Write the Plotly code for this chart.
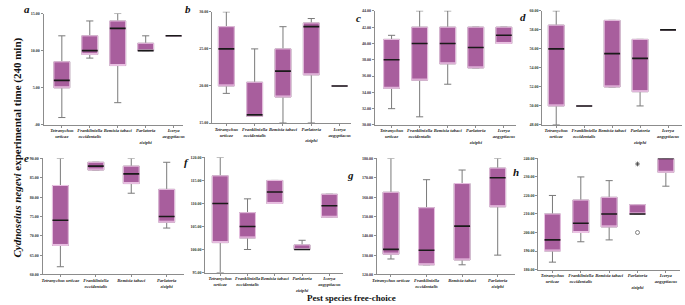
import plotly.graph_objects as go

W, H = 685, 305

# ---------------- data ----------------
cats5 = ["Tetranychus urticae", "Frankliniella occidentalis", "Bemisia tabaci",
         "Parlatoria ziziphi", "Icerya aegyptiacus"]
cats4 = cats5[:4]
labels5 = ["Tetranychus<br>urticae", "Frankliniella<br>occidentalis", "Bemisia tabaci",
           "Parlatoria<br><br>ziziphi", "Icerya<br>aegyptiacus"]
labels4 = ["Tetranychus urticae", "Frankliniella<br>occidentalis", "Bemisia tabaci",
           "Parlatoria<br>ziziphi"]

# panel a (0-15 min)
a_lo = [1, 9, 3, 10, 12]
a_q1 = [5, 9.5, 8, 10, 12]
a_med = [6, 10, 13, 10, 12]
a_q3 = [8.5, 12, 14, 11, 12]
a_hi = [12, 14, 15, 12, 12]
a_ticks = [0, 5, 10, 15]
a_ticktext = [".00", "5.00", "10.00", "15.00"]

# panel b
b_lo = [19, 15.9, 15, 15, 20]
b_q1 = [20, 15.9, 18.5, 21.5, 20]
b_med = [25, 16.1, 22, 28, 20]
b_q3 = [28, 20.5, 25, 28.5, 20]
b_hi = [30, 25, 28, 29.1, 20]
b_ticks = [15, 20, 25, 30]
b_ticktext = ["15.00", "20.00", "25.00", "30.00"]

# panel c
c_lo = [32, 31, 35, 37, 40]
c_q1 = [34.5, 35.5, 37.5, 37, 40]
c_med = [38, 40, 40, 39.5, 41]
c_q3 = [40.5, 42, 42, 42, 42]
c_hi = [41, 44, 44, 42, 42]
c_ticks = [30, 32, 34, 36, 38, 40, 42, 44]
c_ticktext = ["30.00", "32.00", "34.00", "36.00", "38.00", "40.00", "42.00", "44.00"]

# panel d
d_lo = [48, 50, 52, 50, 58]
d_q1 = [50, 50, 52, 51.5, 58]
d_med = [56, 50, 55.5, 55, 58]
d_q3 = [58.5, 50, 59, 57, 58]
d_hi = [60, 50, 59, 57, 58]
d_ticks = [48, 50, 52, 54, 56, 58, 60]
d_ticktext = ["48.00", "50.00", "52.00", "54.00", "56.00", "58.00", "60.00"]

# panel e
e_lo = [62, 87, 81, 72]
e_q1 = [67.5, 87, 83.5, 73.5]
e_med = [74, 88, 86, 75]
e_q3 = [83, 89, 88, 82]
e_hi = [90, 89, 90, 89]
e_ticks = [60, 65, 70, 75, 80, 85, 90]
e_ticktext = ["60.00", "65.00", "70.00", "75.00", "80.00", "85.00", "90.00"]

# panel f
f_lo = [95, 100, 110, 100, 107]
f_q1 = [101.5, 102.5, 110, 100, 107]
f_med = [110, 105, 112.5, 100, 109.5]
f_q3 = [116, 108, 115, 101, 112]
f_hi = [120, 111, 115, 102, 112]
f_ticks = [95, 100, 105, 110, 115, 120]
f_ticktext = ["95.00", "100.00", "105.00", "110.00", "115.00", "120.00"]

# panel g
g_lo = [128, 125, 125, 130]
g_q1 = [130.5, 125, 127.5, 155]
g_med = [133, 132.5, 145, 170]
g_q3 = [162.5, 154.5, 167, 175]
g_hi = [180, 169, 174, 180]
g_ticks = [120, 130, 140, 150, 160, 170, 180]
g_ticktext = ["120.00", "130.00", "140.00", "150.00", "160.00", "170.00", "180.00"]

# panel h
h_lo = [184, 195, 196, 210, 225]
h_q1 = [190, 200, 203, 210, 232.5]
h_med = [196, 205, 210, 210, 240]
h_q3 = [210, 217.5, 219, 215, 240]
h_hi = [220, 230, 228, 215, 240]
h_ticks = [180, 190, 200, 210, 220, 230, 240]
h_ticktext = ["180.00", "190.00", "200.00", "210.00", "220.00", "230.00", "240.00"]
h_out_star_cat = ["Parlatoria ziziphi"]
h_out_star_val = [237]
h_out_circ_cat = ["Parlatoria ziziphi"]
h_out_circ_val = [200]

panels = [
    # letter, cats, labels, lo, q1, med, q3, hi, ticks, ticktext, xl, xr, xrange, ytop, ybot, letter pos
    ("a", cats5, labels5, a_lo, a_q1, a_med, a_q3, a_hi, a_ticks, a_ticktext, 39, 180, [-0.65, 4.35], 10.7, 124, (22, 6)),
    ("b", cats5, labels5, b_lo, b_q1, b_med, b_q3, b_hi, b_ticks, b_ticktext, 209, 349, [-0.5, 4.4], 9, 122, (185, 6)),
    ("c", cats5, labels5, c_lo, c_q1, c_med, c_q3, c_hi, c_ticks, c_ticktext, 373, 516, [-0.6, 4.45], 8, 124, (357, 15)),
    ("d", cats5, labels5, d_lo, d_q1, d_med, d_q3, d_hi, d_ticks, d_ticktext, 542, 683, [-0.5, 4.5], 8, 124, (523, 14)),
    ("e", cats4, labels4, e_lo, e_q1, e_med, e_q3, e_hi, e_ticks, e_ticktext, 38, 181, [-0.5, 3.5], 158, 276, (22, 158)),
    ("f", cats5, labels5, f_lo, f_q1, f_med, f_q3, f_hi, f_ticks, f_ticktext, 202, 341, [-0.55, 4.5], 157, 274, (183, 162)),
    ("g", cats4, labels4, g_lo, g_q1, g_med, g_q3, g_hi, g_ticks, g_ticktext, 375, 515, [-0.4, 3.5], 158, 276, (349, 175)),
    ("h", cats5, labels5, h_lo, h_q1, h_med, h_q3, h_hi, h_ticks, h_ticktext, 538, 681, [-0.5, 4.5], 158, 271, (516, 172)),
]

FILL = "#A85E9D"
BORDER = "#EBC3E4"
WHISK = "#7a7a7a"
MED = "#1a1a1a"
AXC = "#8c8c8c"
SERIF = "Liberation Serif"

fig = go.Figure()
layout = dict(
    width=W, height=H, margin=dict(l=0, r=0, t=0, b=0),
    paper_bgcolor="white", plot_bgcolor="white",
    showlegend=False, boxmode="overlay",
    font=dict(family=SERIF, color="#222"),
)
annotations = []

for i, (letter, cats, labels, lo, q1, med, q3, hi, ticks, ticktext,
        xl, xr, xrng, ytop, ybot, lpos) in enumerate(panels):
    n = "" if i == 0 else str(i + 1)
    xa, ya = "x" + n, "y" + n
    spacing = (xr - xl) / (xrng[1] - xrng[0])
    bw = 16.0 / spacing
    # whiskers
    fig.add_trace(go.Box(x=cats, q1=q1, median=med, q3=q3, lowerfence=lo, upperfence=hi,
                         xaxis=xa, yaxis=ya, width=bw, whiskerwidth=0.45,
                         line=dict(color=WHISK, width=1), fillcolor="rgba(0,0,0,0)",
                         boxpoints=False, hoverinfo="skip"))
    # box body
    fig.add_trace(go.Box(x=cats, q1=q1, median=q1, q3=q3, lowerfence=q1, upperfence=q3,
                         xaxis=xa, yaxis=ya, width=bw, whiskerwidth=0,
                         line=dict(color=BORDER, width=1), fillcolor=FILL,
                         boxpoints=False, hoverinfo="skip"))
    # median line
    fig.add_trace(go.Box(x=cats, q1=med, median=med, q3=med, lowerfence=med, upperfence=med,
                         xaxis=xa, yaxis=ya, width=bw, whiskerwidth=0,
                         line=dict(color=MED, width=1.6), fillcolor="rgba(0,0,0,0)",
                         boxpoints=False, hoverinfo="skip"))
    layout["xaxis" + n] = dict(
        domain=[xl / W, xr / W], anchor=ya, type="category",
        categoryorder="array", categoryarray=cats, range=xrng,
        tickmode="array", tickvals=cats, ticktext=labels,
        tickfont=dict(family=SERIF, size=4.6, style="italic", weight="bold", color="#222"),
        showline=True, linecolor=AXC, linewidth=1, ticks="outside", ticklen=2,
        tickcolor=AXC, showgrid=False, zeroline=False, tickangle=0,
        ticklabelstandoff=-1,
    )
    layout["yaxis" + n] = dict(
        domain=[1 - ybot / H, 1 - ytop / H], anchor=xa,
        range=[ticks[0], ticks[-1]], tickmode="array", tickvals=ticks, ticktext=ticktext,
        tickfont=dict(family=SERIF, size=4, weight="bold", color="#333"),
        showline=True, linecolor=AXC, linewidth=1, ticks="outside", ticklen=2,
        tickcolor=AXC, showgrid=False, zeroline=False,
    )
    annotations.append(dict(
        text="<b><i>%s</i></b>" % letter, x=lpos[0] / W, y=1 - lpos[1] / H,
        xref="paper", yref="paper", showarrow=False, xanchor="center", yanchor="middle",
        font=dict(family=SERIF, size=11, color="#111"),
    ))

# outliers in panel h
fig.add_trace(go.Scatter(x=h_out_star_cat, y=h_out_star_val, mode="markers", xaxis="x8", yaxis="y8",
                         marker=dict(symbol="asterisk", size=4, color="#444",
                                     line=dict(color="#444", width=0.8)),
                         hoverinfo="skip"))
fig.add_trace(go.Scatter(x=h_out_circ_cat, y=h_out_circ_val, mode="markers", xaxis="x8", yaxis="y8",
                         marker=dict(symbol="circle-open", size=4, color="#666",
                                     line=dict(color="#666", width=0.8)),
                         hoverinfo="skip"))

annotations.append(dict(
    text="<b><i>Cydnoseius negevi</i> experimental time (240 min)</b>",
    x=13 / W, y=1 - 147 / H, xref="paper", yref="paper", showarrow=False, textangle=-90,
    xanchor="center", yanchor="middle", font=dict(family=SERIF, size=11, color="#111"),
))
annotations.append(dict(
    text="<b>Pest species free-choice</b>",
    x=350 / W, y=1 - 300 / H, xref="paper", yref="paper", showarrow=False,
    xanchor="center", yanchor="middle", font=dict(family=SERIF, size=9, color="#111"),
))
layout["annotations"] = annotations
fig.update_layout(**layout)
fig.write_html("out.html", config={"displayModeBar": False},
               post_script="document.body.style.margin='0';document.body.style.padding='0';")
